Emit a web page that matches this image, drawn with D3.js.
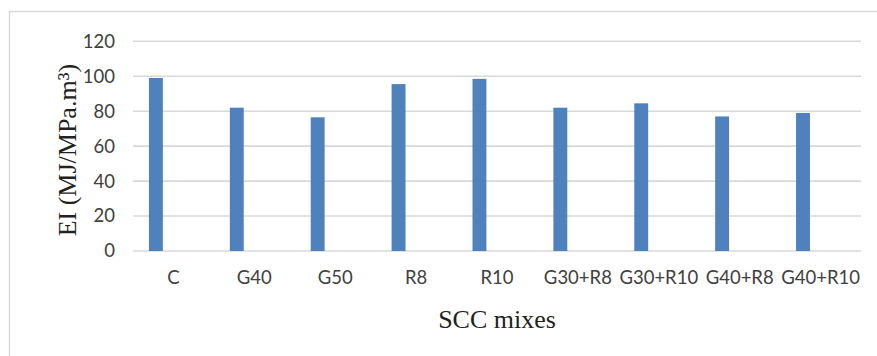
<!DOCTYPE html>
<html>
<head>
<meta charset="utf-8">
<script src="https://cdn.jsdelivr.net/npm/d3@7/dist/d3.min.js"></script>
<style>
  html, body { margin: 0; padding: 0; background: #fff; }
  svg { display: block; }
</style>
</head>
<body>
<div id="chart"></div>
<script>
const categories = ["C", "G40", "G50", "R8", "R10", "G30+R8", "G30+R10", "G40+R8", "G40+R10"];
const eiValues = [99, 82, 76.5, 95.5, 98.5, 82, 84.5, 77, 79];
const yTicks = [0, 20, 40, 60, 80, 100, 120];
const yTitle = "EI (MJ/MPa.m³)";
const xTitle = "SCC mixes";

const W = 877, H = 356;
const plot = { left: 133, right: 861, top: 41.3, bottom: 251 };

const svg = d3.select("#chart").append("svg")
  .attr("width", W).attr("height", H);

svg.append("rect")
  .attr("x", 9.5).attr("y", 11.5)
  .attr("width", 1000).attr("height", 1000)
  .attr("fill", "#fff").attr("stroke", "#d9d9d9").attr("stroke-width", 1.5);

const x = d3.scaleBand().domain(categories).range([plot.left, plot.right]).paddingInner(0).paddingOuter(0);
const y = d3.scaleLinear().domain([0, 120]).range([plot.bottom, plot.top]);

// gridlines
svg.append("g").selectAll("line").data(yTicks).join("line")
  .attr("x1", plot.left).attr("x2", plot.right)
  .attr("y1", d => y(d)).attr("y2", d => y(d))
  .attr("stroke", "#d9d9d9").attr("stroke-width", 1.6);

// y axis labels
const yAxis = d3.axisLeft(y).tickValues(yTicks).tickSize(0).tickPadding(0);
const gy = svg.append("g").attr("transform", `translate(${plot.left - 18},0)`).call(yAxis);
gy.select(".domain").remove();
gy.selectAll("text")
  .attr("font-family", "Lato, 'Open Sans', sans-serif")
  .attr("font-size", 18.5).attr("fill", "#404040");

// x axis labels
const xAxis = d3.axisBottom(x).tickSize(0).tickPadding(0);
const gx = svg.append("g").attr("transform", `translate(0,${plot.bottom + 20})`).call(xAxis);
gx.select(".domain").remove();
gx.selectAll("text")
  .attr("font-family", "Lato, 'Open Sans', sans-serif")
  .attr("font-size", 18.5).attr("fill", "#404040");

// bars
const bw = x.bandwidth();
svg.append("g").selectAll("rect").data(categories).join("rect")
  .attr("x", d => x(d) + bw * 0.197)
  .attr("width", bw * 0.172)
  .attr("y", (d, i) => y(eiValues[i]))
  .attr("height", (d, i) => y(0) - y(eiValues[i]))
  .attr("fill", "#4f81bd");

// axis titles
svg.append("text")
  .attr("x", (plot.left + plot.right) / 2).attr("y", 328)
  .attr("text-anchor", "middle")
  .attr("font-family", "'Liberation Serif', 'Times New Roman', serif")
  .attr("font-size", 26).attr("fill", "#222")
  .text(xTitle);

svg.append("text")
  .attr("transform", `translate(76,${(plot.top + plot.bottom) / 2 + 4}) rotate(-90)`)
  .attr("text-anchor", "middle")
  .attr("font-family", "'Liberation Serif', 'Times New Roman', serif")
  .attr("font-size", 26).attr("fill", "#222")
  .text(yTitle);
</script>
</body>
</html>
